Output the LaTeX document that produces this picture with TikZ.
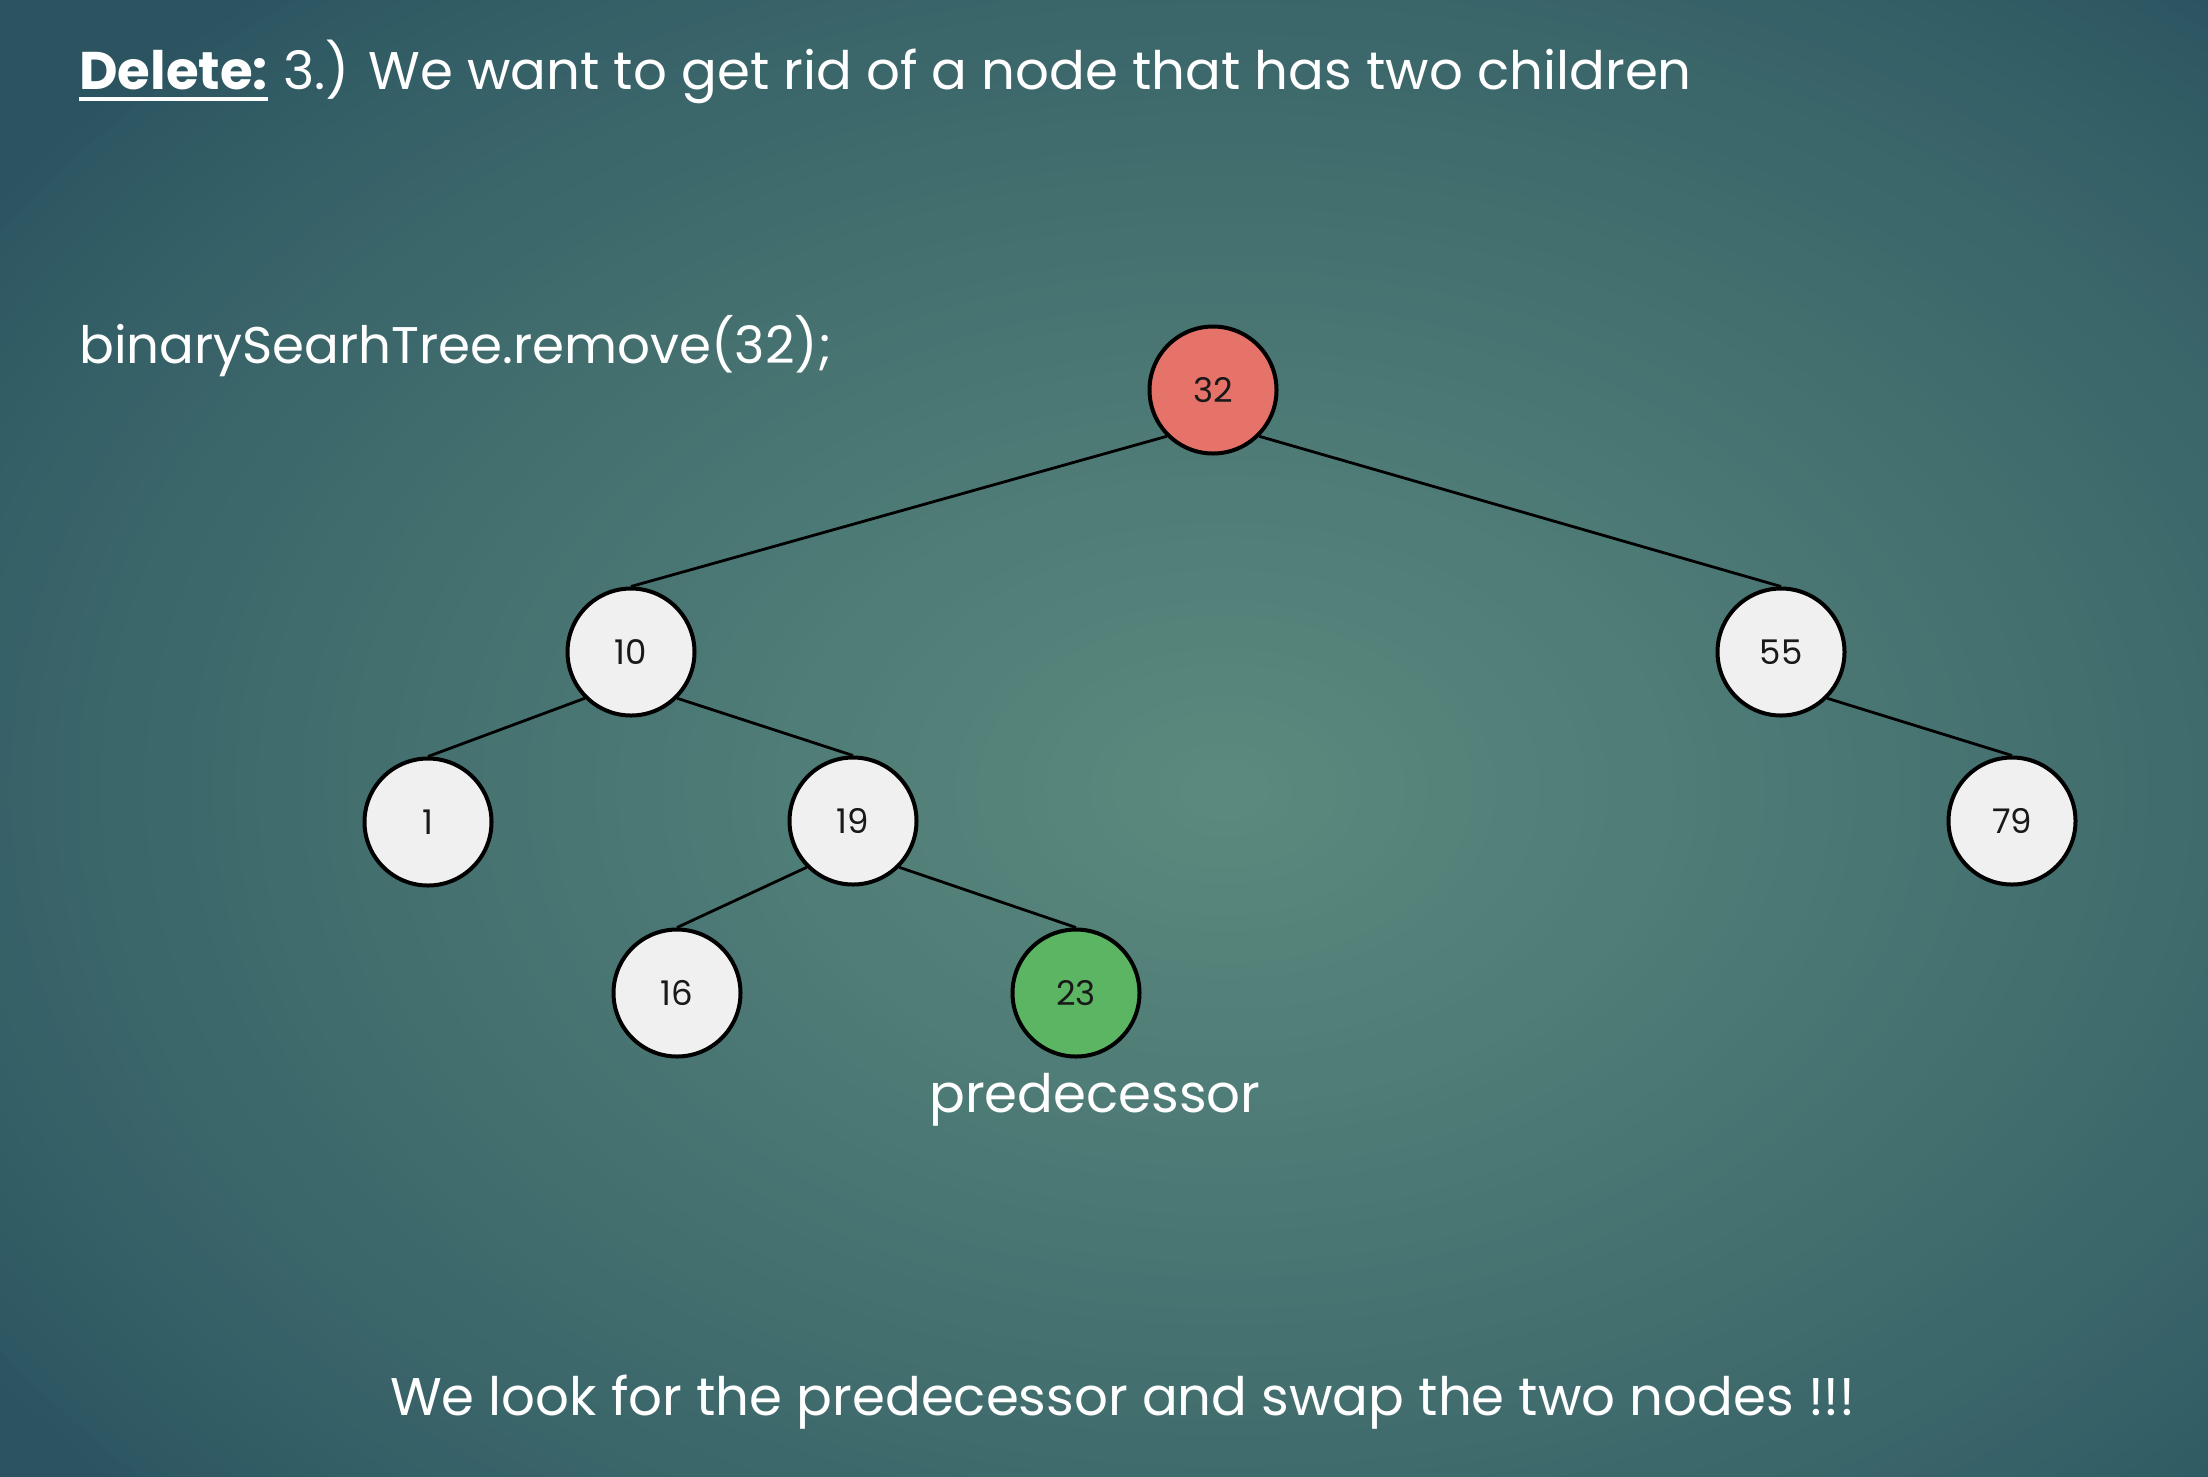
\documentclass[tikz,border=0pt]{standalone}
\usepackage{fontspec}
\setmainfont{Poppins}
\definecolor{bgin}{HTML}{5B8A7E}
\definecolor{bgout}{HTML}{2B5460}
\definecolor{nodelight}{HTML}{F0F0F0}
\definecolor{nodered}{HTML}{E5736A}
\definecolor{nodegreen}{HTML}{5CB563}
\begin{document}
\begin{tikzpicture}[x=1pt,y=-1pt,
  treenode/.style={circle, draw=black, line width=4pt, minimum size=127pt, inner sep=0pt, fill=nodelight, text=black!90, font=\fontsize{34}{38}\selectfont},
  rednode/.style={treenode, fill=nodered},
  greennode/.style={treenode, fill=nodegreen},
  edge/.style={draw=black, line width=2.8pt},
  slidetext/.style={text=white, inner sep=0pt, anchor=base west, font=\fontsize{53}{58}\selectfont},
]
\useasboundingbox (0,0) rectangle (2208,1476);
\begin{scope}
  \clip (0,0) rectangle (2208,1476);
  \fill[bgout] (0,0) rectangle (2208,1476);
  \foreach \i in {0,...,79}{
    \pgfmathsetmacro{\rr}{1.2*(1-\i/80)}
    \pgfmathsetmacro{\pp}{100*(max(0.0001,1-\rr))^0.8}
    \fill[bgin!\pp!bgout] (1225,790) ellipse [x radius=1500*\rr, y radius=1050*\rr];
  }
\end{scope}

% texts
\node[slidetext] (del) at (79,89) {\textbf{Delete:}};
\draw[white, line width=4.5pt] ([yshift=-10pt]del.base west) -- ([yshift=-10pt]del.base east);
\node[slidetext] (title) at ([xshift=15pt]del.base east)
  {3.) We want to get rid of a node that has two children};
\node[slidetext, font=\fontsize{51.5}{56}\selectfont] (code) at (79,363)
  {binarySearhTree.remove(32);};
\node[slidetext] (bottom) at (390,1415)
  {We look for the predecessor and swap the two nodes !!!};

% tree nodes
\node[rednode] (n32) at (1213,390) {32};
\node[treenode] (n10) at (631,652) {10};
\node[treenode] (n55) at (1781,652) {55};
\node[treenode] (n1) at (428,822) {1};
\node[treenode] (n19) at (853,821) {19};
\node[treenode] (n79) at (2012,821) {79};
\node[treenode] (n16) at (677,993) {16};
\node[greennode] (n23) at (1076,993) {23};

\node[slidetext] (pred) at (929,1112) {predecessor};

% edges
\draw[edge] (n32.south west) -- (n10.north);
\draw[edge] (n32.south east) -- (n55.north);
\draw[edge] (n10.south west) -- (n1.north);
\draw[edge] (n10.south east) -- (n19.north);
\draw[edge] (n55.south east) -- (n79.north);
\draw[edge] (n19.south west) -- (n16.north);
\draw[edge] (n19.south east) -- (n23.north);
\end{tikzpicture}
\end{document}
